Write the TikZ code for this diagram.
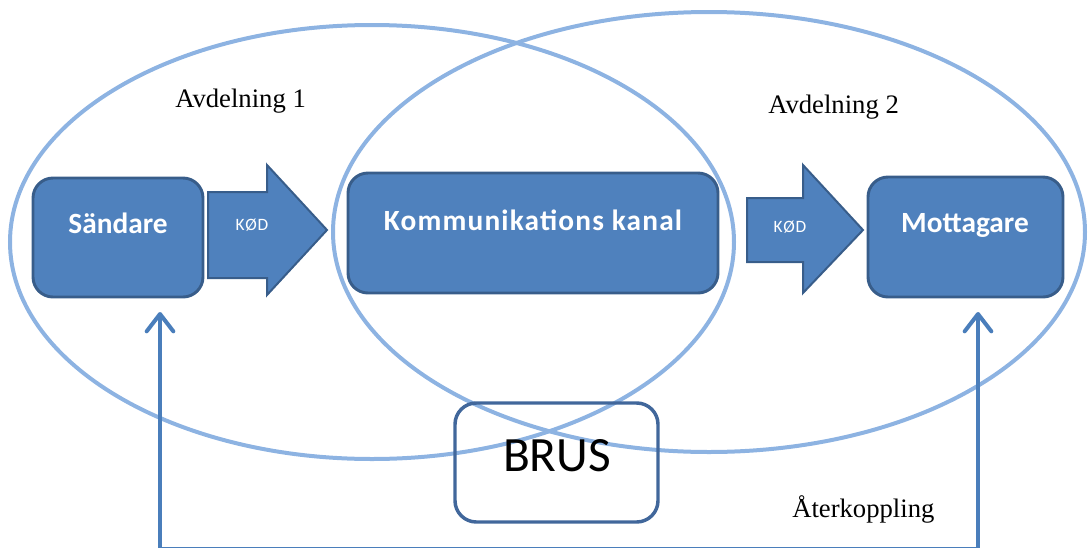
\documentclass[tikz,border=0pt]{standalone}
\usepackage{fontspec}
\setmainfont{Liberation Serif}
\newfontfamily\boxfont{Carlito}
\newfontfamily\boxfontwide[LetterSpace=4]{Carlito}
\usetikzlibrary{arrows.meta}
\definecolor{boxfill}{HTML}{4F81BD}
\definecolor{boxline}{HTML}{385D8A}
\definecolor{deptline}{HTML}{8DB3E2}
\definecolor{noiseline}{HTML}{41679B}
\definecolor{fbline}{HTML}{4A7EBB}

\begin{document}
\begin{tikzpicture}[x=0.75pt,y=-0.75pt,
  dept/.style={draw=deptline, line width=3pt},
  unit/.style={draw=boxline, fill=boxfill, line width=2.2pt, rounded corners=15pt, inner sep=0pt},
  unitlabel/.style={text=white, font=\boxfont\bfseries\fontsize{22}{26}\selectfont, inner sep=0pt},
  codearrow/.style={draw=boxline, fill=boxfill, line width=1.5pt, line join=miter},
  codelabel/.style={text=white, font=\boxfontwide\fontsize{13}{15}\selectfont, inner sep=0pt},
  noise/.style={draw=noiseline, line width=2.6pt, rounded corners=16pt, inner sep=0pt},
  noiselabel/.style={font=\boxfont\fontsize{37}{40}\selectfont, inner sep=0pt},
  feedback/.style={draw=fbline, line width=3pt},
  fbtip/.tip={Straight Barb[length=13pt,width=20pt,round]},
  caption/.style={font=\fontsize{20}{24}\selectfont, inner sep=0pt, anchor=base west}
]
\useasboundingbox (0,0) rectangle (1090,547);
\clip (0,0) rectangle (1090,547);

% the two departments
\draw[dept] (372,242) ellipse [x radius=362, y radius=217];
\draw[dept] (709,232) ellipse [x radius=376, y radius=220];

% sender, channel and receiver
\node[unit, minimum width=127.5pt, minimum height=89.25pt] (snd) at (118,237.5) {};
\node[unit, minimum width=277.5pt, minimum height=90pt] (chan) at (533,233) {};
\node[unit, minimum width=146.25pt, minimum height=90pt] (rcv) at (965.5,237) {};
\node[unitlabel] (sndtext) at (118,223) {Sändare};
\node[unitlabel, font=\boxfontwide\bfseries\fontsize{22}{26}\selectfont] (chantext) at (533,220) {Kommunikations kanal};
\node[unitlabel] (rcvtext) at (965,225) {Mottagare};

% coding arrows
\draw[codearrow] (208,192) -- (267,192) -- (267,165) -- (327,230) -- (267,295) -- (267,278) -- (208,278) -- cycle;
\draw[codearrow] (747,198) -- (803,198) -- (803,165) -- (863,230) -- (803,293) -- (803,262) -- (747,262) -- cycle;
\node[codelabel] (code1) at (252,225) {KØD};
\node[codelabel] (code2) at (790,227) {KØD};

% noise
\node[noise, minimum width=152.25pt, minimum height=89.25pt] (noise) at (556.5,462.5) {};
\node[noiselabel] (noisetext) at (557,456) {BRUS};

% feedback loop
\coordinate (fbLtop) at (160,312);
\coordinate (fbLbot) at (160,548.5);
\coordinate (fbRbot) at (978,548.5);
\coordinate (fbRtop) at (978,312);
\draw[feedback, fbtip-fbtip] (fbLtop) -- (fbLbot) -- (fbRbot) -- (fbRtop);

% captions
\node[caption] (dept1) at (175,107) {Avdelning 1};
\node[caption] (dept2) at (768,113) {Avdelning 2};
\node[caption] (fbtext) at (792,517) {Återkoppling};
\end{tikzpicture}
\end{document}
